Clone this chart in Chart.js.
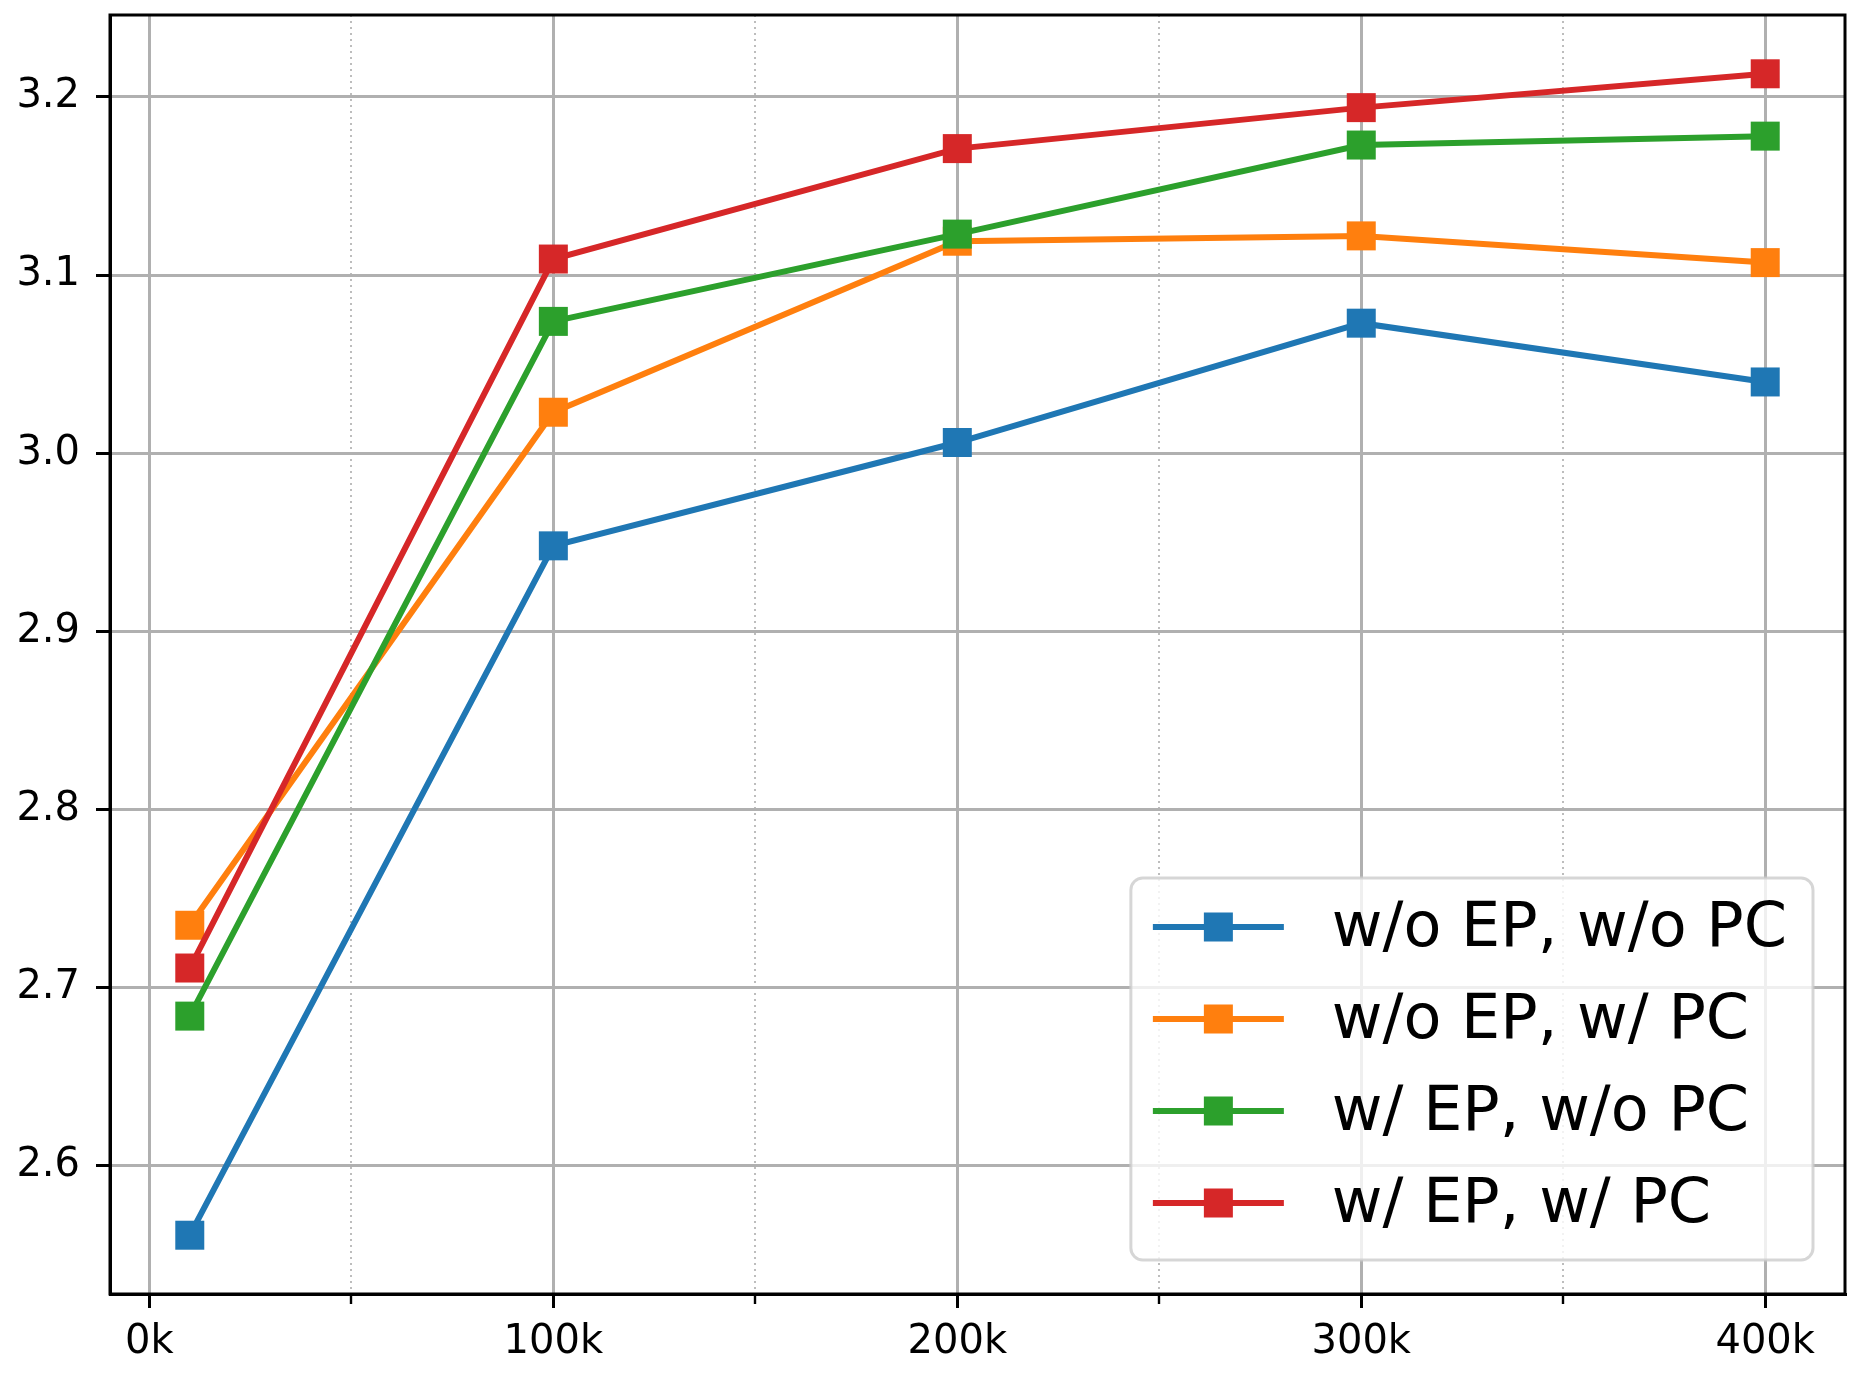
<!DOCTYPE html>
<html>
<head>
<meta charset="utf-8">
<script src="https://cdn.jsdelivr.net/npm/chart.js@4/dist/chart.umd.min.js"></script>
<style>
  html, body { margin: 0; padding: 0; background: #fff; }
  canvas { display: block; }
</style>
</head>
<body>
<canvas id="lineChart" width="1859" height="1378"></canvas>
<script>
// training steps (x) and scores per setting
var steps = [10000, 100000, 200000, 300000, 400000];
var seriesNames = ["w/o EP, w/o PC", "w/o EP, w/ PC", "w/ EP, w/o PC", "w/ EP, w/ PC"];
var noEpNoPc = [2.561, 2.948, 3.006, 3.073, 3.040];
var noEpPc   = [2.735, 3.023, 3.119, 3.122, 3.107];
var epNoPc   = [2.684, 3.074, 3.123, 3.173, 3.178];
var epPc     = [2.711, 3.109, 3.171, 3.194, 3.213];
var yTicks = [2.6, 2.7, 2.8, 2.9, 3.0, 3.1, 3.2];
var xTicks = [0, 100000, 200000, 300000, 400000];
var xMinorTicks = [50000, 150000, 250000, 350000];

var colors = ["#1f77b4", "#ff7f0e", "#2ca02c", "#d62728"];
var allSeries = [noEpNoPc, noEpPc, epNoPc, epPc];

function isMinorX (c) {
	return !!(c.tick && xMinorTicks.indexOf(c.tick.value) !== -1);
}

// box round the plot plus a matplotlib-like legend
var framePlugin = {
	id: 'frame',
	afterDraw: function (chart) {
		var ctx = chart.ctx;
		var a = chart.chartArea;
		ctx.save();
		ctx.strokeStyle = '#000';
		ctx.lineWidth = 3;
		ctx.strokeRect(a.left, a.top, a.right - a.left, a.bottom - a.top);

		var fs = 62;
		ctx.font = fs + 'px "DejaVu Sans"';
		var textW = 0;
		seriesNames.forEach(function (n) { textW = Math.max(textW, ctx.measureText(n).width); });
		var padL = 22, padR = 26, handleLen = 131, handlePad = 48;
		var pitch = 92;
		var boxW = padL + handleLen + handlePad + textW + padR;
		var boxH = 382;
		var bx = a.right - 32 - boxW;
		var by = a.bottom - 34 - boxH;

		ctx.beginPath();
		ctx.roundRect(bx, by, boxW, boxH, 12);
		ctx.fillStyle = 'rgba(255,255,255,0.8)';
		ctx.fill();
		ctx.lineWidth = 3;
		ctx.strokeStyle = 'rgba(204,204,204,0.8)';
		ctx.stroke();

		ctx.textBaseline = 'middle';
		ctx.textAlign = 'left';
		for (var i = 0; i < seriesNames.length; i++) {
			var cy = by + 49 + i * pitch;
			var hx = bx + padL;
			ctx.strokeStyle = colors[i];
			ctx.lineWidth = 6;
			ctx.beginPath();
			ctx.moveTo(hx, cy);
			ctx.lineTo(hx + handleLen, cy);
			ctx.stroke();
			ctx.fillStyle = colors[i];
			ctx.fillRect(hx + handleLen / 2 - 14.5, cy - 14.5, 29, 29);
			ctx.fillStyle = '#000';
			ctx.fillText(seriesNames[i], hx + handleLen + handlePad, cy + 3);
		}
		ctx.restore();
	}
};

function loadChart () {
	var datasets = allSeries.map(function (vals, i) {
		return {
			label: seriesNames[i],
			data: steps.map(function (s, j) { return {x: s, y: vals[j]}; }),
			borderColor: colors[i],
			backgroundColor: colors[i],
			pointBackgroundColor: colors[i],
			pointBorderColor: colors[i],
			pointStyle: 'rect',
			pointRadius: 20.5,
			pointBorderWidth: 0,
			borderWidth: 6,
			fill: false,
			tension: 0,
			order: 3 - i
		};
	});

	var ctx = document.getElementById("lineChart");
	new Chart(ctx, {
		type: 'line',
		data: { datasets: datasets },
		plugins: [framePlugin],
		options: {
			responsive: false,
			animation: false,
			devicePixelRatio: 1,
			layout: { autoPadding: false, padding: { top: 15, right: 14, left: 0, bottom: 0 } },
			plugins: {
				legend: { display: false },
				tooltip: { enabled: false }
			},
			scales: {
				x: {
					type: 'linear',
					min: -9750,
					max: 419750,
					afterBuildTicks: function (scale) {
						scale.ticks = xTicks.concat(xMinorTicks).sort(function (p, q) { return p - q; })
							.map(function (v) { return {value: v}; });
					},
					afterFit: function (scale) {
						scale.height = 84;
						scale.paddingLeft = 0;
						scale.paddingRight = 0;
					},
					border: {
						display: true, color: '#000', width: 3,
						dash: function (c) { return isMinorX(c) ? [2, 4] : []; }
					},
					grid: {
						color: function (c) { return isMinorX(c) ? '#bdbdbd' : '#b0b0b0'; },
						lineWidth: function (c) { return isMinorX(c) ? 2 : 3; },
						tickColor: '#000',
						tickLength: 14,
						tickWidth: function (c) { return isMinorX(c) ? 2.4 : 3; },
						tickBorderDash: function (c) { return isMinorX(c) ? [8, 60] : []; }
					},
					ticks: {
						autoSkip: false,
						maxRotation: 0,
						padding: 11,
						color: '#000',
						font: { family: '"DejaVu Sans"', size: 40 },
						callback: function (v) { return xTicks.indexOf(v) !== -1 ? (v / 1000) + 'k' : ''; }
					}
				},
				y: {
					type: 'linear',
					min: 2.528,
					max: 3.246,
					afterBuildTicks: function (scale) {
						scale.ticks = yTicks.map(function (v) { return {value: v}; });
					},
					afterFit: function (scale) {
						scale.width = 110;
						scale.paddingTop = 0;
						scale.paddingBottom = 0;
					},
					border: { display: true, color: '#000', width: 3 },
					grid: {
						color: '#b0b0b0',
						lineWidth: 3,
						tickColor: '#000',
						tickLength: 14,
						tickWidth: 3
					},
					ticks: {
						padding: 16,
						color: '#000',
						font: { family: '"DejaVu Sans"', size: 40 },
						callback: function (v) { return v.toFixed(1); }
					}
				}
			}
		}
	});
}
window.addEventListener("load", function(){ loadChart(); });
</script>
</body>
</html>
